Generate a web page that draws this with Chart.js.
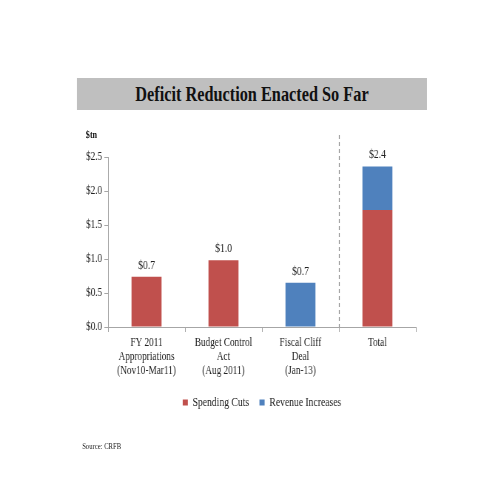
<!DOCTYPE html>
<html>
<head>
<meta charset="utf-8">
<script src="https://cdn.jsdelivr.net/npm/chart.js@4/dist/chart.umd.min.js"></script>
<style>
  html, body { margin: 0; padding: 0; background: #fff; overflow: hidden; }
  /* the original picture is horizontally squeezed, so draw wide and squeeze the same way */
  #wrap { position: relative; width: 669px; height: 495px; transform: scaleX(0.74); transform-origin: 0 0;
          font-family: "Liberation Serif", "DejaVu Serif", serif; }
  #chart { position: absolute; left: 0; top: 0; }
  .title { position: absolute; left: 104px; top: 78px; width: 473px; height: 32px; background: #bfbfbf;
           font-weight: bold; font-size: 22px; line-height: 32px; text-align: center; color: #111; white-space: nowrap; }
  .unit { position: absolute; left: 116px; top: 128px; font-weight: bold; font-size: 11px; color: #111; }
  .source { position: absolute; left: 111px; top: 441px; font-size: 9px; color: #222; }
</style>
</head>
<body>
<div id="wrap">
  <canvas id="chart" width="669" height="495"></canvas>
  <div class="title">Deficit Reduction Enacted So Far</div>
  <div class="unit">$tn</div>
  <div class="source">Source: CRFB</div>
</div>
<script>
// ===== Chart data =====
const categories = [
    ['FY 2011', 'Appropriations', '(Nov10-Mar11)'],
    ['Budget Control', 'Act', '(Aug 2011)'],
    ['Fiscal Cliff', 'Deal', '(Jan-13)'],
    'Total'
];
const spendingCuts = [0.74, 0.98, null, 1.72];
const revenueIncreases = [null, null, 0.65, 0.64];
const yTicks = [0.0, 0.5, 1.0, 1.5, 2.0, 2.5];

const serif = '"Liberation Serif", "DejaVu Serif", serif';

// Totals above each bar + dashed separator before "Total"
const annotatePlugin = {
    id: 'annotate',
    afterDatasetsDraw(chart) {
        const ctx = chart.ctx;
        const x = chart.scales.x;
        const y = chart.scales.y;
        ctx.save();
        ctx.font = '13px ' + serif;
        ctx.fillStyle = '#222';
        ctx.textAlign = 'center';
        ctx.textBaseline = 'bottom';
        categories.forEach((c, i) => {
            const total = (spendingCuts[i] || 0) + (revenueIncreases[i] || 0);
            ctx.fillText('$' + total.toFixed(1), x.getPixelForValue(i), y.getPixelForValue(total) - 5);
        });
        // separator
        const sx = Math.round((x.getPixelForValue(2) + x.getPixelForValue(3)) / 2) + 0.5;
        ctx.strokeStyle = '#8c8c8c';
        ctx.lineWidth = 1.2;
        ctx.setLineDash([4, 3]);
        ctx.beginPath();
        ctx.moveTo(sx, 135);
        ctx.lineTo(sx, y.bottom);
        ctx.stroke();
        ctx.restore();
    }
};

new Chart(document.getElementById('chart'), {
    type: 'bar',
    data: {
        labels: categories,
        datasets: [
            {
                label: 'Spending Cuts',
                data: spendingCuts,
                backgroundColor: '#c0504d',
                categoryPercentage: 1.0,
                barPercentage: 0.39
            },
            {
                label: 'Revenue Increases',
                data: revenueIncreases,
                backgroundColor: '#4f81bd',
                categoryPercentage: 1.0,
                barPercentage: 0.39
            }
        ]
    },
    options: {
        responsive: false,
        animation: false,
        layout: { padding: { left: 78, right: 107, top: 157, bottom: 76 } },
        scales: {
            x: {
                stacked: true,
                grid: { drawOnChartArea: false, drawTicks: true, tickLength: 5, color: '#a6a6a6', offset: true },
                border: { color: '#a6a6a6' },
                ticks: { color: '#222', font: { family: serif, size: 12.5, lineHeight: 1.1 }, padding: 4,
                         maxRotation: 0, autoSkip: false },
                afterFit(scale) { scale.height = 55; }
            },
            y: {
                stacked: true,
                min: 0,
                max: 2.5,
                afterBuildTicks(scale) { scale.ticks = yTicks.map(v => ({ value: v })); },
                grid: { drawOnChartArea: false, drawTicks: true, tickLength: 5, color: '#a6a6a6' },
                border: { color: '#a6a6a6' },
                ticks: {
                    color: '#222',
                    font: { family: serif, size: 12.5 },
                    padding: 3,
                    callback: v => '$' + Number(v).toFixed(1)
                },
                afterFit(scale) { scale.width = 68; }
            }
        },
        plugins: {
            legend: {
                position: 'bottom',
                fullSize: false,
                labels: {
                    color: '#222',
                    font: { family: serif, size: 13 },
                    boxWidth: 7,
                    boxHeight: 6,
                    padding: 14
                }
            },
            tooltip: { enabled: false }
        }
    },
    plugins: [annotatePlugin]
});
</script>
</body>
</html>
